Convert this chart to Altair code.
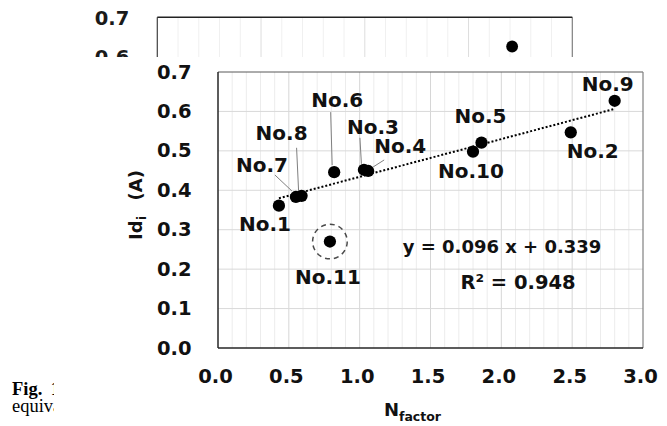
import altair as alt
import pandas as pd

# ---------------- data ----------------
samples = ["No.1", "No.2", "No.3", "No.4", "No.5", "No.6", "No.7", "No.8", "No.9", "No.10", "No.11"]
n_factor = [0.43, 2.49, 1.03, 1.06, 1.86, 0.82, 0.55, 0.59, 2.80, 1.80, 0.79]
id_i = [0.361, 0.547, 0.452, 0.449, 0.521, 0.446, 0.383, 0.386, 0.627, 0.498, 0.270]
outliers = ["No.11"]

eq_text = "y = 0.096 x + 0.339"
r2_text = "R\u00b2 = 0.948"

x_major = [0.0, 0.5, 1.0, 1.5, 2.0, 2.5, 3.0]
x_minor = [0.1, 0.2, 0.3, 0.4, 0.6, 0.7, 0.8, 0.9, 1.1, 1.2, 1.3, 1.4,
           1.6, 1.7, 1.8, 1.9, 2.1, 2.2, 2.3, 2.4, 2.6, 2.7, 2.8, 2.9]
y_major = [0.0, 0.1, 0.2, 0.3, 0.4, 0.5, 0.6, 0.7]

# page content visible behind the chart (another figure + caption)
bg_x = [3.42]
bg_y = [0.625]
bg_x_major = [1.0, 2.0, 3.0]
bg_x_minor = [0.2, 0.4, 0.6, 0.8, 1.2, 1.4, 1.6, 1.8, 2.2, 2.4, 2.6, 2.8, 3.2, 3.4, 3.6, 3.8]
bg_y_labels = [0.7, 0.6]
caption_bold = "Fig.\u00a0\u20091"
caption_text = "equivalent"

# ---------------- layout ----------------
W, H = 425, 276
FONT = "DejaVu Sans"
px_x = W / 3.0
px_y = H / 0.7

pts = pd.DataFrame({"sample": samples, "n": n_factor, "id": id_i})
pts["outlier"] = pts["sample"].isin(outliers)

# label offsets in pixels (dx, dy) relative to each point
label_offsets = {
    "No.1": (-14, 19), "No.7": (-34, -31), "No.8": (-20, -62), "No.6": (3, -71),
    "No.3": (9, -42), "No.4": (32, -24), "No.5": (-1, -26), "No.10": (-2, 20),
    "No.2": (22, 20), "No.9": (-7, -16), "No.11": (-2, 36),
}
# leader lines: (start offset, end offset) in pixels relative to point
leader_offsets = {
    "No.6": ((-3.5, -60), (-2, -7)),
    "No.8": ((-5, -48), (-3, -5)),
    "No.7": ((-21, -22), (-4, -6)),
    "No.3": ((-4, -32), (-2.5, -6)),
    "No.4": ((16, -11), (5, -4)),
}
lead_rows = []
for s, ((ax, ay), (bx, by)) in leader_offsets.items():
    r = pts[pts["sample"] == s].iloc[0]
    lead_rows.append({"x1": r["n"] + ax / px_x, "y1": r["id"] - ay / px_y,
                      "x2": r["n"] + bx / px_x, "y2": r["id"] - by / px_y})
leads = pd.DataFrame(lead_rows)

one = pd.DataFrame({"a": [0]})

# ---------------- background figure ----------------
bxs = alt.Scale(domain=[0.5851, 4.6814], nice=False, zero=False)
bys = alt.Scale(domain=[-0.1479, 0.5597], nice=False, zero=False)

def BX(f):
    return alt.X(f, type="quantitative", scale=bxs, axis=None)

def BY(f):
    return alt.Y(f, type="quantitative", scale=bys, axis=None)

bg_minor_df = pd.DataFrame({"v": bg_x_minor, "lo": 0.3, "hi": 0.7})
bg_major_df = pd.DataFrame({"v": bg_x_major, "lo": 0.3, "hi": 0.7})
bg_pts = pd.DataFrame({"x": bg_x, "y": bg_y})
bg_lab = pd.DataFrame({"v": bg_y_labels, "z": 0.0, "t": [f"{v:.1f}" for v in bg_y_labels]})
bg_frame = pd.DataFrame({"x0": [0.0], "x1": [4.0], "top": [0.7], "low": [0.3]})

bg_layers = [
    alt.Chart(bg_minor_df).mark_rule(color="#f0f0f0", strokeWidth=1).encode(
        x=BX("v"), y=BY("lo"), y2="hi"),
    alt.Chart(bg_major_df).mark_rule(color="#dddddd", strokeWidth=1).encode(
        x=BX("v"), y=BY("lo"), y2="hi"),
    alt.Chart(bg_frame).mark_rule(color="#7f7f7f", strokeWidth=1.2).encode(
        x=BX("x1"), y=BY("low"), y2="top"),
    alt.Chart(bg_frame).mark_rule(color="#404040", strokeWidth=1.2).encode(
        x=BX("x0"), y=BY("low"), y2="top"),
    alt.Chart(bg_frame).mark_rule(color="#222222", strokeWidth=1.5).encode(
        x=BX("x0"), x2="x1", y=BY("top")),
    alt.Chart(bg_pts).mark_circle(size=140, color="black", opacity=1).encode(
        x=BX("x"), y=BY("y")),
    alt.Chart(bg_lab).mark_text(align="right", baseline="middle", dx=-28, dy=2, font=FONT,
                                fontWeight="bold", fontSize=19.5, color="#1a1a1a").encode(
        x=BX("z"), y=BY("v"), text="t:N"),
    alt.Chart(one).mark_text(text=caption_bold, align="left", baseline="alphabetic",
                             font="Liberation Serif", fontWeight="bold", fontSize=18.5,
                             color="black").encode(x=alt.value(-206), y=alt.value(323)),
    alt.Chart(one).mark_text(text=caption_text, align="left", baseline="alphabetic",
                             font="Liberation Serif", fontSize=18.5,
                             color="black").encode(x=alt.value(-206), y=alt.value(340)),
]
background = alt.layer(*bg_layers)

# ---------------- main chart ----------------
xs = alt.Scale(domain=[0, 3], nice=False, zero=False)
ys = alt.Scale(domain=[0, 0.7], nice=False, zero=False)
xaxis = alt.Axis(values=x_major, format=".1f", labelFont=FONT, labelFontWeight="bold",
                 labelFontSize=19.5, labelColor="#111111", labelPadding=19, labelOffset=-3,
                 ticks=False, tickSize=0, domain=False, grid=False, title=None, zindex=2,
                 labelFlush=False, labelOverlap=False)
yaxis = alt.Axis(values=y_major, format=".1f", labelFont=FONT, labelFontWeight="bold",
                 labelFontSize=19.5, labelColor="#111111", labelPadding=27, ticks=False,
                 tickSize=0, domain=False, grid=False, title=None, zindex=2,
                 labelFlush=False, labelOverlap=False)

def X(f):
    return alt.X(f, type="quantitative", scale=xs, axis=xaxis)

def Y(f):
    return alt.Y(f, type="quantitative", scale=ys, axis=yaxis)

minor_df = pd.DataFrame({"v": x_minor, "lo": 0.0, "hi": 0.7})
major_df = pd.DataFrame({"v": x_major[1:-1], "lo": 0.0, "hi": 0.7})
hgrid_df = pd.DataFrame({"v": y_major[1:-1], "lo": 0.0, "hi": 3.0})
frame = pd.DataFrame({"x0": [0.0], "x1": [3.0], "y0": [0.0], "y1": [0.7]})

main_layers = [
    # the chart's white card covering the page behind it
    alt.Chart(one).mark_rect(color="white").encode(
        x=alt.value(-164), x2=alt.value(441), y=alt.value(-15), y2=alt.value(360)),
    alt.Chart(minor_df).mark_rule(color="#ececec", strokeWidth=1).encode(
        x=X("v"), y=Y("lo"), y2="hi"),
    alt.Chart(major_df).mark_rule(color="#d6d6d6", strokeWidth=1).encode(
        x=X("v"), y=Y("lo"), y2="hi"),
    alt.Chart(hgrid_df).mark_rule(color="#d9d9d9", strokeWidth=1).encode(
        y=Y("v"), x=X("lo"), x2="hi"),
    alt.Chart(frame).mark_rule(color="#595959", strokeWidth=1).encode(
        x=X("x0"), x2="x1", y=Y("y1")),
    alt.Chart(frame).mark_rule(color="#808080", strokeWidth=1.2).encode(
        x=X("x1"), y=Y("y0"), y2="y1"),
    alt.Chart(frame).mark_rule(color="#262626", strokeWidth=1.5).encode(
        x=X("x0"), y=Y("y0"), y2="y1"),
    alt.Chart(frame).mark_rule(color="#262626", strokeWidth=1.5).encode(
        x=X("x0"), x2="x1", y=Y("y0")),
    # regression trend line (No.11 excluded)
    alt.Chart(pts).transform_filter("!datum.outlier").transform_regression(
        "n", "id").mark_line(color="black", strokeWidth=2, strokeDash=[2, 2]).encode(
        x=X("n"), y=Y("id")),
    alt.Chart(leads).mark_rule(color="#808080", strokeWidth=1).encode(
        x=X("x1"), y=Y("y1"), x2="x2", y2="y2"),
    alt.Chart(pts).mark_circle(size=150, color="black", opacity=1).encode(
        x=X("n"), y=Y("id")),
    alt.Chart(pts).transform_filter("datum.outlier").mark_point(
        shape="circle", filled=False, size=1200, color="black", strokeWidth=1.5,
        strokeDash=[5, 4]).encode(x=X("n"), y=Y("id")),
]

for s, (dx, dy) in label_offsets.items():
    main_layers.append(
        alt.Chart(pts).transform_filter(alt.datum.sample == s).mark_text(
            dx=dx, dy=dy, align="center", baseline="middle", font=FONT,
            fontWeight="bold", fontSize=20, color="#111111").encode(
            x=X("n"), y=Y("id"), text="sample:N"))

main_layers += [
    alt.Chart(one).mark_text(text=eq_text, align="center", baseline="middle", font=FONT,
                             fontWeight="bold", fontSize=18, color="#111111").encode(
        x=alt.X(datum=2.005, type="quantitative", scale=xs, axis=xaxis),
        y=alt.Y(datum=0.254, type="quantitative", scale=ys, axis=yaxis)),
    alt.Chart(one).mark_text(text=r2_text, align="center", baseline="middle", font=FONT,
                             fontWeight="bold", fontSize=19.5, color="#111111").encode(
        x=alt.X(datum=2.118, type="quantitative", scale=xs, axis=xaxis),
        y=alt.Y(datum=0.165, type="quantitative", scale=ys, axis=yaxis)),
    # x title N_factor
    alt.Chart(one).mark_text(text="N", align="left", baseline="alphabetic", font=FONT,
                             fontWeight="bold", fontSize=18, color="#111111").encode(
        x=alt.value(166), y=alt.value(344)),
    alt.Chart(one).mark_text(text="factor", align="left", baseline="alphabetic", font=FONT,
                             fontWeight="bold", fontSize=12.5, color="#111111").encode(
        x=alt.value(181), y=alt.value(348.5)),
    # y title Id_i (A)
    alt.Chart(one).mark_text(text="Id", align="left", baseline="alphabetic", angle=270,
                             font=FONT, fontWeight="bold", fontSize=18, color="#111111").encode(
        x=alt.value(-76), y=alt.value(168)),
    alt.Chart(one).mark_text(text="i", align="left", baseline="alphabetic", angle=270,
                             font=FONT, fontWeight="bold", fontSize=12, color="#111111").encode(
        x=alt.value(-72), y=alt.value(148)),
    alt.Chart(one).mark_text(text="(A)", align="right", baseline="alphabetic", angle=270,
                             font=FONT, fontWeight="bold", fontSize=18, color="#111111").encode(
        x=alt.value(-76), y=alt.value(98)),
]
main = alt.layer(*main_layers)

chart = alt.layer(background, main).resolve_scale(
    x="independent", y="independent"
).properties(
    width=W, height=H,
    autosize=alt.AutoSizeParams(type="none"),
    padding={"left": 210, "top": 64, "right": 16, "bottom": 78},
).configure_view(stroke=None)

chart.save("out.html", embed_options={"renderer": "svg", "actions": False})
